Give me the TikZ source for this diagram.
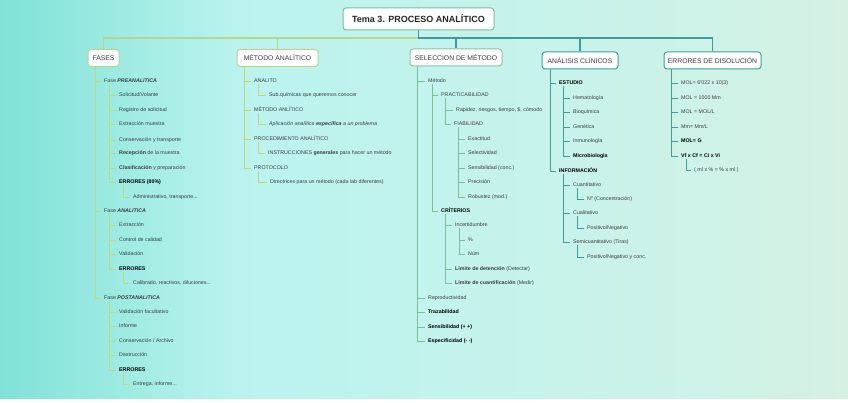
\documentclass[tikz,border=0pt]{standalone}
\usepackage{fontspec}
\setmainfont{Liberation Sans}
\definecolor{bgleft}{HTML}{80E2D7}
\definecolor{bgmid}{HTML}{BAF3EE}
\definecolor{bgmid2}{HTML}{C6F3EC}
\definecolor{bgright}{HTML}{D4F1E3}
\definecolor{limebox}{HTML}{B6D788}
\definecolor{limetree}{HTML}{C6D47A}
\definecolor{sagebox}{HTML}{8CC2A2}
\definecolor{sagetree}{HTML}{7DBD98}
\definecolor{tealline}{HTML}{3D9D9C}
\definecolor{rootline}{HTML}{7DBB9E}
\definecolor{itemtext}{HTML}{3C3C3C}
\pgfdeclarehorizontalshading{bgwash}{100bp}{color(0bp)=(bgleft); color(25bp)=(bgleft); color(39bp)=(bgmid); color(56bp)=(bgmid2); color(75bp)=(bgright); color(100bp)=(bgright)}
\tikzset{rootbox/.style={draw=rootline,fill=white,rounded corners=3pt,line width=1pt,minimum width=151pt,minimum height=22pt,font=\fontsize{9}{10}\selectfont\bfseries,text=black!85}}
\tikzset{topbox/.style={fill=white,rounded corners=3pt,line width=1pt,inner xsep=2pt,minimum height=17pt,font=\fontsize{6.8}{8}\selectfont,text=itemtext}}
\tikzset{item/.style={anchor=west,inner sep=0pt,text height=3.9pt,text depth=1.1pt,font=\fontsize{5.3}{6}\selectfont,text=itemtext}}
\tikzset{bitem/.style={item,font=\fontsize{5.3}{6}\selectfont\bfseries,text=black}}
\tikzset{limebar/.style={limebox,line width=1.2pt}}
\tikzset{tealbar/.style={tealline,line width=1.2pt}}
\tikzset{fasesline/.style={limetree,line width=0.9pt}}
\tikzset{sageline/.style={sagetree,line width=0.8pt}}
\tikzset{tealtree/.style={tealline,line width=0.8pt}}

\begin{document}
\begin{tikzpicture}[x=1pt,y=-1pt]
    \useasboundingbox (0,0) rectangle (848,403);
    \shade [shading=bgwash] (0,0) rectangle (848,398);
    \node [rootbox] (root) at (418.5,19) {Tema 3. PROCESO ANALÍTICO};
    \node [topbox,draw=limebox,minimum width=31pt] (fases) at (103.5,58) {FASES};
    \node [topbox,draw=limebox,minimum width=81pt] (metodo) at (277.5,58) {MÉTODO ANALÍTICO};
    \node [topbox,draw=sagebox,minimum width=92pt] (seleccion) at (456,57.5) {SELECCION DE MÉTODO};
    \node [topbox,draw=tealline,minimum width=76pt] (clinicos) at (580,60.5) {ANÁLISIS CLÍNICOS};
    \node [topbox,draw=tealline,minimum width=97pt] (disolucion) at (712.5,60.5) {ERRORES DE DISOLUCIÓN};
    \coordinate (hub) at ([yshift=-7.5pt]root.south);
    \draw [limebar] (hub) -| (fases.north);
    \draw [limebar] (hub) -| (metodo.north);
    \draw [tealbar] (root.south) -- (hub) -| (seleccion.north);
    \draw [tealbar] (hub) -| (clinicos.north);
    \draw [tealbar] (hub) -| (disolucion.north);

    \node [item] (pre) at (104,81.5) {Fase \textbf{\textit{PREANALITICA}}};
    \node [item] (pre1) at (119,95) {Solicitud/Volante};
    \node [item] (pre2) at (119,110) {Registro de solicitud};
    \node [item] (pre3) at (119,124.5) {Extracción muestra};
    \node [item] (pre4) at (119,140) {Conservación y transporte};
    \node [item] (pre5) at (119,153.5) {\textbf{Recepción} de la muestra};
    \node [item] (pre6) at (119,168) {\textbf{Clasificación} y preparación};
    \node [bitem] (pre7) at (119,182) {ERRORES (80\%)};
    \node [item] (pre7a) at (133,197) {Administrativo, transporte...};
    \node [item] (ana) at (104,211) {Fase \textbf{\textit{ANALITICA}}};
    \node [item] (ana1) at (119,225.5) {Extracción};
    \node [item] (ana2) at (119,240) {Control de calidad};
    \node [item] (ana3) at (119,254) {Validación};
    \node [bitem] (ana4) at (119,269) {ERRORES};
    \node [item] (ana4a) at (133,283.5) {Calibrado, reactivos, diluciones...};
    \node [item] (post) at (104,298) {Fase \textbf{\textit{POSTANALITICA}}};
    \node [item] (post1) at (119,312) {Validación facultativo};
    \node [item] (post2) at (119,326.5) {Informe};
    \node [item] (post3) at (119,341) {Conservación / Archivo};
    \node [item] (post4) at (119,355.5) {Destrucción};
    \node [bitem] (post5) at (119,370) {ERRORES};
    \node [item] (post5a) at (133,384.5) {Entrega, informe...};
    \draw [fasesline] ([xshift=8pt]fases.south west) |- ([xshift=-3pt]pre.west);
    \draw [fasesline] ([xshift=8pt]fases.south west) |- ([xshift=-3pt]ana.west);
    \draw [fasesline] ([xshift=8pt]fases.south west) |- ([xshift=-3pt]post.west);
    \draw [fasesline] ([xshift=5pt]pre.south west) |- ([xshift=-3pt]pre1.west);
    \draw [fasesline] ([xshift=5pt]pre.south west) |- ([xshift=-3pt]pre2.west);
    \draw [fasesline] ([xshift=5pt]pre.south west) |- ([xshift=-3pt]pre3.west);
    \draw [fasesline] ([xshift=5pt]pre.south west) |- ([xshift=-3pt]pre4.west);
    \draw [fasesline] ([xshift=5pt]pre.south west) |- ([xshift=-3pt]pre5.west);
    \draw [fasesline] ([xshift=5pt]pre.south west) |- ([xshift=-3pt]pre6.west);
    \draw [fasesline] ([xshift=5pt]pre.south west) |- ([xshift=-3pt]pre7.west);
    \draw [fasesline] ([xshift=4pt]pre7.south west) |- ([xshift=-3pt]pre7a.west);
    \draw [fasesline] ([xshift=5pt]ana.south west) |- ([xshift=-3pt]ana1.west);
    \draw [fasesline] ([xshift=5pt]ana.south west) |- ([xshift=-3pt]ana2.west);
    \draw [fasesline] ([xshift=5pt]ana.south west) |- ([xshift=-3pt]ana3.west);
    \draw [fasesline] ([xshift=5pt]ana.south west) |- ([xshift=-3pt]ana4.west);
    \draw [fasesline] ([xshift=4pt]ana4.south west) |- ([xshift=-3pt]ana4a.west);
    \draw [fasesline] ([xshift=5pt]post.south west) |- ([xshift=-3pt]post1.west);
    \draw [fasesline] ([xshift=5pt]post.south west) |- ([xshift=-3pt]post2.west);
    \draw [fasesline] ([xshift=5pt]post.south west) |- ([xshift=-3pt]post3.west);
    \draw [fasesline] ([xshift=5pt]post.south west) |- ([xshift=-3pt]post4.west);
    \draw [fasesline] ([xshift=5pt]post.south west) |- ([xshift=-3pt]post5.west);
    \draw [fasesline] ([xshift=4pt]post5.south west) |- ([xshift=-3pt]post5a.west);

    \node [item] (analito) at (254,81.5) {ANALITO};
    \node [item] (analitoA) at (269,95.5) {Sub.químicas que queremos conocer};
    \node [item] (metan) at (254,110) {MÉTODO ANLÍTICO};
    \node [item] (metanA) at (269,124.5) {\textit{Aplicación analítica \textbf{específica} a un problema}};
    \node [item] (proc) at (254,139) {PROCEDIMIENTO ANALÍTICO};
    \node [item] (procA) at (268,153.5) {INSTRUCCIONES \textbf{generales} para hacer un método};
    \node [item] (proto) at (254,168) {PROTOCOLO};
    \node [item] (protoA) at (270,182.5) {Directrices para un método (cada lab diferentes)};
    \draw [fasesline] ([xshift=8pt]metodo.south west) |- ([xshift=-3pt]analito.west);
    \draw [fasesline] ([xshift=8pt]metodo.south west) |- ([xshift=-3pt]metan.west);
    \draw [fasesline] ([xshift=8pt]metodo.south west) |- ([xshift=-3pt]proc.west);
    \draw [fasesline] ([xshift=8pt]metodo.south west) |- ([xshift=-3pt]proto.west);
    \draw [fasesline] ([xshift=4pt]analito.south west) |- ([xshift=-3pt]analitoA.west);
    \draw [fasesline] ([xshift=4pt]metan.south west) |- ([xshift=-3pt]metanA.west);
    \draw [fasesline] ([xshift=4pt]proc.south west) |- ([xshift=-3pt]procA.west);
    \draw [fasesline] ([xshift=4pt]proto.south west) |- ([xshift=-3pt]protoA.west);

    \node [item] (met) at (428,81.5) {Método};
    \node [item] (pract) at (441,95) {PRACTICABILIDAD};
    \node [item] (practA) at (456,110) {Rapidez, riesgos, tiempo, \$, cómodo};
    \node [item] (fiab) at (454,124.5) {FIABILIDAD};
    \node [item] (fiab1) at (468,139) {Exactitud};
    \node [item] (fiab2) at (468,153) {Selectividad};
    \node [item] (fiab3) at (468,168) {Sensibilidad (conc.)};
    \node [item] (fiab4) at (468,182.5) {Precisión};
    \node [item] (fiab5) at (468,197) {Robustez (mod.)};
    \node [bitem] (crit) at (441,211) {CRÍTERIOS};
    \node [item] (incert) at (455,225.5) {Incertidumbre};
    \node [item] (incert1) at (468,240) {\%};
    \node [item] (incert2) at (468,254.5) {Núm};
    \node [item] (limdet) at (455,269) {\textbf{Límite de detención} (Detectar)};
    \node [item] (limcuan) at (455,283.5) {\textbf{Límite de cuantificación} (Medir)};
    \node [item] (repro) at (428,298) {Reproductividad};
    \node [bitem] (traza) at (428,312.5) {Trazabilidad};
    \node [bitem] (sensi) at (428,327) {Sensibilidad (+ +)};
    \node [bitem] (espec) at (428,341.5) {Especificidad (- -)};
    \draw [sageline] ([xshift=8pt]seleccion.south west) |- ([xshift=-3pt]met.west);
    \draw [sageline] ([xshift=8pt]seleccion.south west) |- ([xshift=-3pt]repro.west);
    \draw [sageline] ([xshift=8pt]seleccion.south west) |- ([xshift=-3pt]traza.west);
    \draw [sageline] ([xshift=8pt]seleccion.south west) |- ([xshift=-3pt]sensi.west);
    \draw [sageline] ([xshift=8pt]seleccion.south west) |- ([xshift=-3pt]espec.west);
    \draw [sageline] ([xshift=4pt]met.south west) |- ([xshift=-3pt]pract.west);
    \draw [sageline] ([xshift=4pt]met.south west) |- ([xshift=-3pt]crit.west);
    \draw [sageline] ([xshift=4pt]pract.south west) |- ([xshift=-3pt]practA.west);
    \draw [sageline] ([xshift=4pt]pract.south west) |- ([xshift=-3pt]fiab.west);
    \draw [sageline] ([xshift=4pt]fiab.south west) |- ([xshift=-3pt]fiab1.west);
    \draw [sageline] ([xshift=4pt]fiab.south west) |- ([xshift=-3pt]fiab2.west);
    \draw [sageline] ([xshift=4pt]fiab.south west) |- ([xshift=-3pt]fiab3.west);
    \draw [sageline] ([xshift=4pt]fiab.south west) |- ([xshift=-3pt]fiab4.west);
    \draw [sageline] ([xshift=4pt]fiab.south west) |- ([xshift=-3pt]fiab5.west);
    \draw [sageline] ([xshift=4pt]crit.south west) |- ([xshift=-3pt]incert.west);
    \draw [sageline] ([xshift=4pt]crit.south west) |- ([xshift=-3pt]limdet.west);
    \draw [sageline] ([xshift=4pt]crit.south west) |- ([xshift=-3pt]limcuan.west);
    \draw [sageline] ([xshift=4pt]incert.south west) |- ([xshift=-3pt]incert1.west);
    \draw [sageline] ([xshift=4pt]incert.south west) |- ([xshift=-3pt]incert2.west);

    \node [bitem] (estudio) at (559,83.5) {ESTUDIO};
    \node [item] (est1) at (573,98) {Hematología};
    \node [item] (est2) at (573,112.5) {Bioquímica};
    \node [item] (est3) at (573,127) {Genética};
    \node [item] (est4) at (573,141) {Inmunología};
    \node [bitem] (est5) at (573,156) {Microbiología};
    \node [bitem] (info) at (559,171) {INFORMACIÓN};
    \node [item] (cuanti) at (573,185) {Cuantitativo};
    \node [item] (cuantiA) at (587,199.5) {Nº (Concentración)};
    \node [item] (cuali) at (573,213.5) {Cualitativo};
    \node [item] (cualiA) at (587,228) {Positivo/Negativo};
    \node [item] (semi) at (573,242.5) {Semicuantitativo (Tiras)};
    \node [item] (semiA) at (587,257) {Positivo/Negativo y conc.};
    \draw [tealtree] ([xshift=9pt]clinicos.south west) |- ([xshift=-3pt]estudio.west);
    \draw [tealtree] ([xshift=9pt]clinicos.south west) |- ([xshift=-3pt]info.west);
    \draw [tealtree] ([xshift=4pt]estudio.south west) |- ([xshift=-3pt]est1.west);
    \draw [tealtree] ([xshift=4pt]estudio.south west) |- ([xshift=-3pt]est2.west);
    \draw [tealtree] ([xshift=4pt]estudio.south west) |- ([xshift=-3pt]est3.west);
    \draw [tealtree] ([xshift=4pt]estudio.south west) |- ([xshift=-3pt]est4.west);
    \draw [tealtree] ([xshift=4pt]estudio.south west) |- ([xshift=-3pt]est5.west);
    \draw [tealtree] ([xshift=4pt]info.south west) |- ([xshift=-3pt]cuanti.west);
    \draw [tealtree] ([xshift=4pt]info.south west) |- ([xshift=-3pt]cuali.west);
    \draw [tealtree] ([xshift=4pt]info.south west) |- ([xshift=-3pt]semi.west);
    \draw [tealtree] ([xshift=4pt]cuanti.south west) |- ([xshift=-3pt]cuantiA.west);
    \draw [tealtree] ([xshift=4pt]cuali.south west) |- ([xshift=-3pt]cualiA.west);
    \draw [tealtree] ([xshift=4pt]semi.south west) |- ([xshift=-3pt]semiA.west);

    \node [item] (mol1) at (681,83.5) {MOL= 6'022 x 10(3)};
    \node [item] (mol2) at (681,98) {MOL = 1000 Mm};
    \node [item] (mol3) at (681,112.5) {MOL = MOL/L};
    \node [item] (mol4) at (681,127) {Mm= Mm/L};
    \node [bitem] (mol5) at (681,141) {MOL= G};
    \node [bitem] (mol6) at (681,156) {Vf x Cf = Ci x Vi};
    \node [item] (mol6a) at (694,170.5) {( ml x \% = \% x ml )};
    \draw [tealtree] ([xshift=8pt]disolucion.south west) |- ([xshift=-3pt]mol1.west);
    \draw [tealtree] ([xshift=8pt]disolucion.south west) |- ([xshift=-3pt]mol2.west);
    \draw [tealtree] ([xshift=8pt]disolucion.south west) |- ([xshift=-3pt]mol3.west);
    \draw [tealtree] ([xshift=8pt]disolucion.south west) |- ([xshift=-3pt]mol4.west);
    \draw [tealtree] ([xshift=8pt]disolucion.south west) |- ([xshift=-3pt]mol5.west);
    \draw [tealtree] ([xshift=8pt]disolucion.south west) |- ([xshift=-3pt]mol6.west);
    \draw [tealtree] ([xshift=5pt]mol6.south west) |- ([xshift=-3pt]mol6a.west);
\end{tikzpicture}
\end{document}
